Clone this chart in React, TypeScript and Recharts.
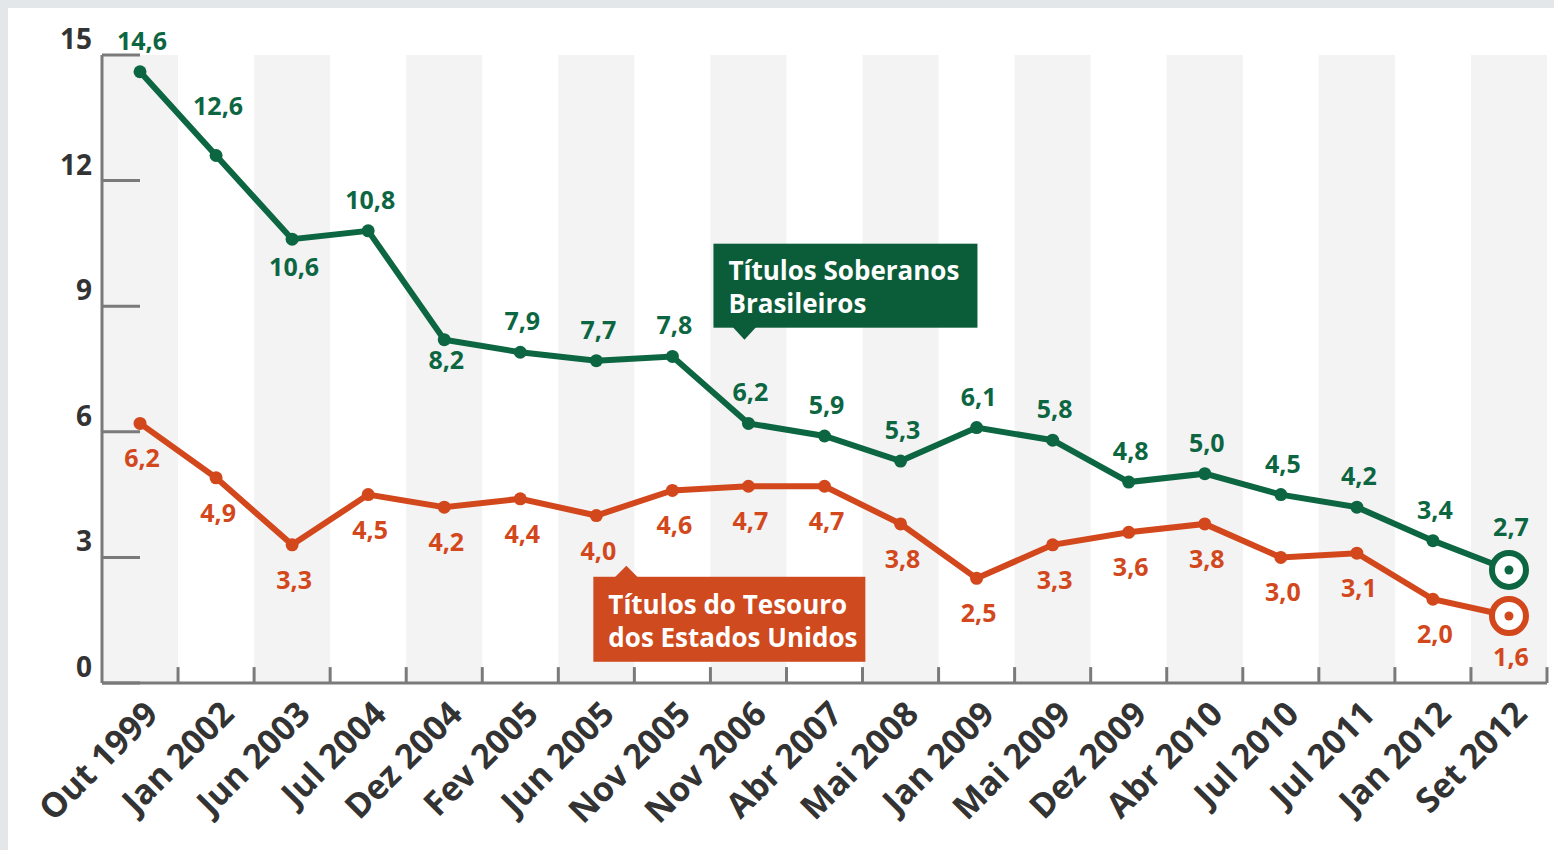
import React from 'react';
import {
  LineChart,
  Line,
  XAxis,
  YAxis,
  ReferenceArea,
  ReferenceLine,
  ReferenceDot,
  LabelList,
} from 'recharts';

const categories = [
  'Out 1999', 'Jan 2002', 'Jun 2003', 'Jul 2004', 'Dez 2004', 'Fev 2005', 'Jun 2005',
  'Nov 2005', 'Nov 2006', 'Abr 2007', 'Mai 2008', 'Jan 2009', 'Mai 2009', 'Dez 2009',
  'Abr 2010', 'Jul 2010', 'Jul 2011', 'Jan 2012', 'Set 2012',
];
const brazilYields = [14.6, 12.6, 10.6, 10.8, 8.2, 7.9, 7.7, 7.8, 6.2, 5.9, 5.3, 6.1, 5.8, 4.8, 5.0, 4.5, 4.2, 3.4, 2.7];
const usYields = [6.2, 4.9, 3.3, 4.5, 4.2, 4.4, 4.0, 4.6, 4.7, 4.7, 3.8, 2.5, 3.3, 3.6, 3.8, 3.0, 3.1, 2.0, 1.6];
const yTicks = [0, 3, 6, 9, 12, 15];

const GREEN = '#0d6642';
const GREEN_BOX = '#0b5c39';
const ORANGE = '#d2481c';
const ORANGE_BOX = '#cf4a1f';
const AXIS = '#7a7a7a';
const STRIPE = '#f3f3f3';
const FONT = '"Open Sans", sans-serif';

const LAST = categories.length - 1;

// labels that sit away from their series' default spot
const greenLabelShift: Record<number, number> = { 1: -40, 2: 37, 4: 29, [LAST]: -34 };
const orangeLabelShift: Record<number, number> = { [LAST]: 50 };

const data = categories.map((name, i) => ({ name, br: brazilYields[i], us: usYields[i] }));

const fmt = (v: number) => v.toFixed(1).replace('.', ',');

const renderDot = (color: string) => (props: any) => {
  const { cx, cy, index } = props;
  if (index === LAST) {
    return (
      <g key={`dot-${color}-${index}`}>
        <circle cx={cx} cy={cy} r={17} fill="#fff" stroke={color} strokeWidth={6} />
        <circle cx={cx} cy={cy} r={4.5} fill={color} />
      </g>
    );
  }
  return <circle key={`dot-${color}-${index}`} cx={cx} cy={cy} r={6.5} fill={color} />;
};

const GreenLabel = (props: any) => {
  const { x, y, value, index } = props;
  const dy = greenLabelShift[index] ?? -22;
  return (
    <text x={x + 2} y={y + dy} textAnchor="middle" fill={GREEN}
      fontFamily={FONT} fontWeight={700} fontSize={25}>
      {fmt(value)}
    </text>
  );
};

const OrangeLabel = (props: any) => {
  const { x, y, value, index } = props;
  const dy = orangeLabelShift[index] ?? 44;
  return (
    <text x={x + 2} y={y + dy} textAnchor="middle" fill={ORANGE}
      fontFamily={FONT} fontWeight={700} fontSize={25}>
      {fmt(value)}
    </text>
  );
};

const YTick = (props: any) => {
  const { x, y, payload } = props;
  return (
    <g>
      <line x1={x} x2={x + 38} y1={y} y2={y} stroke={AXIS} strokeWidth={3} />
      <text x={x - 10} y={y - 6} textAnchor="end" fill="#333" fontFamily={FONT}
        fontWeight={700} fontSize={28}>
        {payload.value}
      </text>
    </g>
  );
};

const XTick = (props: any) => {
  const { x, y, payload } = props;
  const ax = x + 20;
  const ay = y + 33;
  return (
    <text x={ax} y={ay} textAnchor="end" fill="#333" fontFamily={FONT}
      fontWeight={700} fontSize={34} transform={`rotate(-45, ${ax}, ${ay})`}>
      {payload.value}
    </text>
  );
};

const GreenCallout = (props: any) => {
  const { cx, cy } = props;
  const tx = cx - 4;
  return (
    <g>
      <rect x={tx - 31} y={cy - 96} width={264} height={84} fill={GREEN_BOX} />
      <path d={`M${tx - 12},${cy - 13} L${tx + 12},${cy - 13} L${tx},${cy} Z`} fill={GREEN_BOX} />
      <text x={tx - 16} y={cy - 60} fill="#fff" fontFamily={FONT} fontWeight={700} fontSize={26}>
        Títulos Soberanos
      </text>
      <text x={tx - 16} y={cy - 27} fill="#fff" fontFamily={FONT} fontWeight={700} fontSize={26}>
        Brasileiros
      </text>
    </g>
  );
};

const OrangeCallout = (props: any) => {
  const { cx, cy } = props;
  const tx = cx + 30;
  return (
    <g>
      <rect x={tx - 33} y={cy + 11} width={272} height={85} fill={ORANGE_BOX} />
      <path d={`M${tx - 12},${cy + 12} L${tx + 12},${cy + 12} L${tx},${cy} Z`} fill={ORANGE_BOX} />
      <text x={tx - 18} y={cy + 48} fill="#fff" fontFamily={FONT} fontWeight={700} fontSize={26}>
        Títulos do Tesouro
      </text>
      <text x={tx - 18} y={cy + 81} fill="#fff" fontFamily={FONT} fontWeight={700} fontSize={26}>
        dos Estados Unidos
      </text>
    </g>
  );
};

export default function App() {
  return (
    <div style={{ position: 'fixed', left: 0, top: 0, width: 1554, height: 850, background: '#e4e7ea' }}>
      <div style={{ position: 'absolute', left: 8, top: 8, width: 1546, height: 842, background: '#fff' }}>
        <LineChart width={1546} height={842} data={data}
          margin={{ top: 47, right: 7, left: 14, bottom: 17 }}>
          {categories.map((c, i) =>
            i % 2 === 0 ? (
              <ReferenceArea key={`stripe-${c}`} x1={c} x2={c} y1={0} y2={15}
                fill={STRIPE} fillOpacity={1} stroke="none" />
            ) : null
          )}
          {categories.map((c) => (
            <ReferenceLine key={`tick-${c}`} position="end" stroke={AXIS} strokeWidth={3}
              segment={[{ x: c, y: 0 }, { x: c, y: 0.38 }]} />
          ))}
          <XAxis dataKey="name" scale="band" height={150} interval={0} tick={<XTick />}
            tickLine={false} tickSize={0} tickMargin={0}
            axisLine={{ stroke: AXIS, strokeWidth: 3 }} />
          <YAxis width={80} domain={[0, 15]} ticks={yTicks} tick={<YTick />}
            tickLine={false} tickSize={0} tickMargin={0}
            axisLine={{ stroke: AXIS, strokeWidth: 3 }} />
          <ReferenceDot x="Nov 2006" y={8.2} shape={<GreenCallout />} />
          <ReferenceDot x="Jun 2005" y={2.8} shape={<OrangeCallout />} />
          <Line dataKey="us" stroke={ORANGE} strokeWidth={6} dot={renderDot(ORANGE)}
            activeDot={false} isAnimationActive={false}>
            <LabelList dataKey="us" content={<OrangeLabel />} />
          </Line>
          <Line dataKey="br" stroke={GREEN} strokeWidth={6} dot={renderDot(GREEN)}
            activeDot={false} isAnimationActive={false}>
            <LabelList dataKey="br" content={<GreenLabel />} />
          </Line>
        </LineChart>
      </div>
    </div>
  );
}
